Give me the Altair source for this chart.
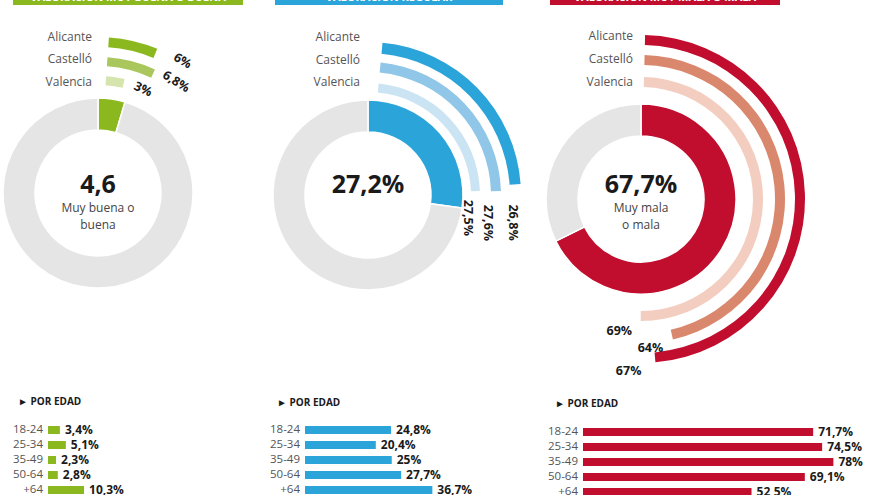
import math
import altair as alt
import pandas as pd

# ---------------- data ----------------
cities = ["Alicante", "Castelló", "Valencia"]
ages = ["18-24", "25-34", "35-49", "50-64", "+64"]
titles = ["VALORACIÓN MUY BUENA O BUENA", "VALORACIÓN REGULAR", "VALORACIÓN MUY MALA O MALA"]
totals = [4.6, 27.2, 67.7]
total_texts = ["4,6", "27,2%", "67,7%"]
subtitles = [["Muy buena o", "buena"], [], ["Muy mala", "o mala"]]
city_good = [6, 6.8, 3]
city_regular = [26.8, 27.6, 27.5]
city_bad = [67, 64, 69]
age_good = [3.4, 5.1, 2.3, 2.8, 10.3]
age_regular = [24.8, 20.4, 25, 27.7, 36.7]
age_bad = [71.7, 74.5, 78, 69.1, 52.5]

city_values = [city_good, city_regular, city_bad]
age_values = [age_good, age_regular, age_bad]


def pct(v):
    return f"{v:g}".replace(".", ",") + "%"


FONT = "Open Sans"
GRAY_RING = "#e5e5e5"

# ---------------- layout / style per panel ----------------
panels = [
    dict(cx=98, cy=193, main="#8cb81f", arcs=["#8cb81f", "#a9c75c", "#d6e4ae"],
         radii=[(156, 146), (136, 127), (117, 108)], dom=118, a0=0.07,
         lab_r=[157, 136, 113], lab_off=0.18, lab_ang=[30, 32, 25],
         name_x=92, name_y=[37, 59, 82],
         head=(13, 243), head_cx=128,
         por=(18, 402), bar_x0=48, bar_k=3.5, bar_y0=430),
    dict(cx=368, cy=195, main="#2aa4d9", arcs=["#2aa4d9", "#90c6e7", "#cae4f4"],
         radii=[(153, 142), (133, 123), (112, 103)], dom=120, a0=0.095,
         lab_r=[148, 123, 103], lab_off=0.26, lab_ang=[90, 90, 90],
         name_x=360, name_y=[37, 60, 82],
         head=(275, 503), head_cx=389,
         por=(277, 403), bar_x0=305, bar_k=3.47, bar_y0=430),
    dict(cx=641, cy=199, main="#c20e2e", arcs=["#c20e2e", "#da886d", "#f3cdbf"],
         radii=[(164, 154), (144, 134), (122, 112)], dom=139, a0=0.025,
         lab_r=[172, 149, 134], lab_off=0.16, lab_ang=[0, 0, 0],
         name_x=633, name_y=[36, 59, 82],
         head=(550, 780), head_cx=665,
         por=(555, 404), bar_x0=583, bar_k=3.21, bar_y0=432),
]

layers = []
for p_i, P in enumerate(panels):
    cx, cy = P["cx"], P["cy"]

    # header bar (cropped at the top of the picture)
    hdf = pd.DataFrame({"t": [titles[p_i]]})
    layers.append(alt.Chart(hdf).mark_rect(color=P["main"]).encode(
        x=alt.value(P["head"][0]), x2=alt.value(P["head"][1]),
        y=alt.value(0), y2=alt.value(5)))
    layers.append(alt.Chart(hdf).mark_text(
        font=FONT, fontSize=11, fontWeight="bold", color="white",
        baseline="middle", align="center").encode(
        text="t:N", x=alt.value(P["head_cx"]), y=alt.value(-2)))

    # main donut
    ddf = pd.DataFrame({"part": ["valor", "resto"],
                        "v": [totals[p_i], 100 - totals[p_i]], "o": [0, 1]})
    layers.append(alt.Chart(ddf).mark_arc(
        radius=95, radius2=63, stroke="white", strokeWidth=1.5).encode(
        theta=alt.Theta("v:Q", stack=True, scale=alt.Scale(domain=[0, 100])),
        color=alt.Color("part:N", scale=alt.Scale(domain=["valor", "resto"],
                                                 range=[P["main"], GRAY_RING]), legend=None),
        order=alt.Order("o:Q"),
        x=alt.value(cx), y=alt.value(cy)))

    # centre texts
    tdf = pd.DataFrame({"t": [total_texts[p_i]]})
    layers.append(alt.Chart(tdf).mark_text(
        font=FONT, fontSize=25, fontWeight="bold", color="#1a1a1a",
        baseline="middle", align="center").encode(
        text="t:N", x=alt.value(cx), y=alt.value(185)))
    if subtitles[p_i]:
        sdf = pd.DataFrame({"line": subtitles[p_i], "i": list(range(len(subtitles[p_i])))})
        layers.append(alt.Chart(sdf).mark_text(
            font=FONT, fontSize=12, color="#444444", baseline="middle", align="center").encode(
            text="line:N", x=alt.value(cx),
            y=alt.Y("i:O", scale=alt.Scale(range=[208, 225], padding=0), axis=None)))

    # city arcs and labels
    theta_scale = alt.Scale(domain=[0, P["dom"]], range=[P["a0"], P["a0"] + 2 * math.pi])
    for c_i, city in enumerate(cities):
        v = city_values[p_i][c_i]
        cdf = pd.DataFrame({"city": [city], "v": [v], "lab": [pct(v)]})
        ro, ri = P["radii"][c_i]
        layers.append(alt.Chart(cdf).mark_arc(
            radius=ro, radius2=ri, color=P["arcs"][c_i]).encode(
            theta=alt.Theta("v:Q", stack=True, scale=theta_scale),
            x=alt.value(cx), y=alt.value(cy)))
        layers.append(alt.Chart(cdf).mark_text(
            font=FONT, fontSize=12.5, fontWeight="bold", color="#1a1a1a",
            align="center", baseline="middle", angle=P["lab_ang"][c_i],
            thetaOffset=P["lab_off"]).encode(
            theta=alt.Theta("v:Q", stack=False, scale=theta_scale),
            radius=alt.value(P["lab_r"][c_i]),
            text="lab:N", x=alt.value(cx), y=alt.value(cy)))
        layers.append(alt.Chart(cdf).mark_text(
            font=FONT, fontSize=12, color="#555555", align="right", baseline="middle").encode(
            text="city:N", x=alt.value(P["name_x"]), y=alt.value(P["name_y"][c_i])))

    # "POR EDAD" heading
    pdf = pd.DataFrame({"t": ["► POR EDAD"]})
    layers.append(alt.Chart(pdf).mark_text(
        font=FONT, fontSize=10, fontWeight="bold", color="#1a1a1a",
        align="left", baseline="middle").encode(
        text="t:N", x=alt.value(P["por"][0]), y=alt.value(P["por"][1])))

    # age bars
    adf = pd.DataFrame({"age": ages, "v": age_values[p_i],
                        "lab": [pct(v) for v in age_values[p_i]]})
    xs = alt.Scale(domain=[0, 100], range=[P["bar_x0"], P["bar_x0"] + P["bar_k"] * 100])
    ys = alt.Scale(domain=ages, range=[P["bar_y0"] - 7.5, P["bar_y0"] + 67.5],
                   paddingInner=0, paddingOuter=0)
    layers.append(alt.Chart(adf).mark_bar(size=8, color=P["main"]).encode(
        x=alt.X("v:Q", scale=xs, axis=None),
        y=alt.Y("age:N", scale=ys, axis=None)))
    layers.append(alt.Chart(adf).mark_text(
        font=FONT, fontSize=12, fontWeight="bold", color="#1a1a1a",
        align="left", baseline="middle", dx=5).encode(
        x=alt.X("v:Q", scale=xs, axis=None),
        y=alt.Y("age:N", scale=ys, axis=None), text="lab:N"))
    layers.append(alt.Chart(adf).mark_text(
        font=FONT, fontSize=11.5, color="#555555", align="right", baseline="middle").encode(
        x=alt.value(P["bar_x0"] - 5),
        y=alt.Y("age:N", scale=ys, axis=None), text="age:N"))

chart = alt.layer(*layers).resolve_scale(
    x="independent", y="independent", theta="independent", color="independent"
).properties(
    width=880, height=495, autosize=alt.AutoSizeParams(type="none"), padding=0
).configure_view(stroke=None)

chart.save("out.html", embed_options={"renderer": "svg", "actions": False})
